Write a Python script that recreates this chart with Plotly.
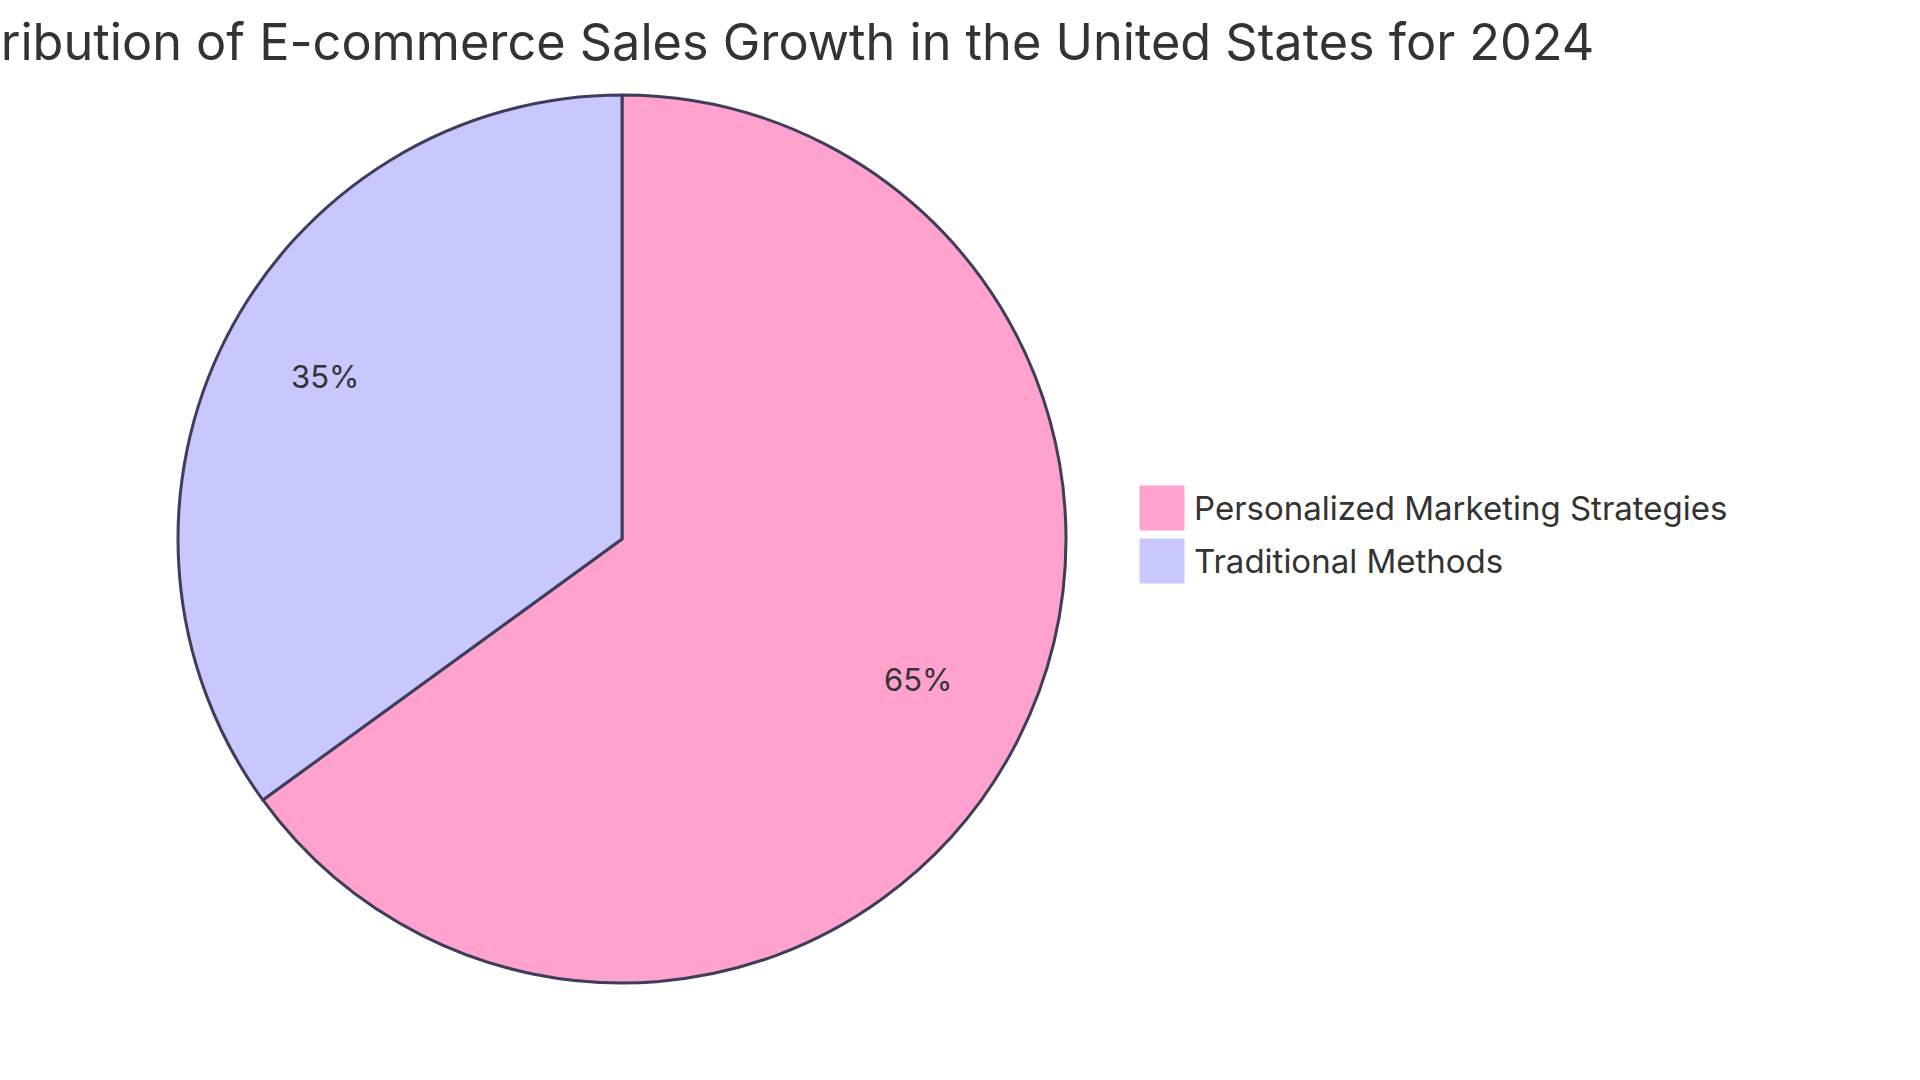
import math
import plotly.graph_objects as go

title = "Distribution of E-commerce Sales Growth in the United States for 2024"
labels = ["Personalized Marketing Strategies", "Traditional Methods"]
values = [65, 35]
colors = ["#FFA3CE", "#C8C8FE"]

W, H = 1920, 1080
cx, cy, r = 622, 539, 444
FONT = "Inter, Roboto, sans-serif"
TEXT = "#333333"

fig = go.Figure()
fig.add_trace(go.Pie(
    labels=labels, values=values, sort=False, direction="clockwise", rotation=0,
    marker=dict(colors=colors, line=dict(color="#3D3D5C", width=3)),
    textinfo="none", hoverinfo="label+percent", showlegend=False,
    domain=dict(x=[(cx - r) / W, (cx + r) / W], y=[1 - (cy + r) / H, 1 - (cy - r) / H]),
))

annotations = []
total = sum(values)
cum = 0
for v in values:
    mid = (cum + v / 2) / total * 2 * math.pi
    cum += v
    px = cx + 0.75 * r * math.sin(mid)
    py = cy - 0.75 * r * math.cos(mid) - 11
    annotations.append(dict(
        x=px / W, y=1 - py / H, xref="paper", yref="paper", showarrow=False,
        text=f"{round(v / total * 100)}%", font=dict(family=FONT, size=31, color=TEXT),
        xanchor="center", yanchor="middle"))

# title (centred on the drawing, partly off the left edge as in the reference)
annotations.append(dict(
    x=1596 / W, y=1 - 42 / H, xref="paper", yref="paper", showarrow=False,
    text=title, font=dict(family=FONT, size=50.4, color=TEXT),
    xanchor="right", yanchor="middle"))

shapes = []
lx, ly0, sq, gap = 1140, 486, 44, 53
for i, (lab, col) in enumerate(zip(labels, colors)):
    y0 = ly0 + i * gap
    shapes.append(dict(type="rect", xref="paper", yref="paper",
                       x0=lx / W, x1=(lx + sq) / W, y0=1 - (y0 + sq) / H, y1=1 - y0 / H,
                       fillcolor=col, line=dict(color=col, width=1)))
    annotations.append(dict(
        x=(lx + sq + 8) / W, y=1 - (y0 + sq / 2) / H, xref="paper", yref="paper",
        showarrow=False, text=lab, font=dict(family=FONT, size=33, color=TEXT),
        xanchor="left", yanchor="middle"))

fig.update_layout(
    width=W, height=H, margin=dict(l=0, r=0, t=0, b=0),
    paper_bgcolor="white", plot_bgcolor="white",
    annotations=annotations, shapes=shapes,
)
fig.write_html("out.html")
